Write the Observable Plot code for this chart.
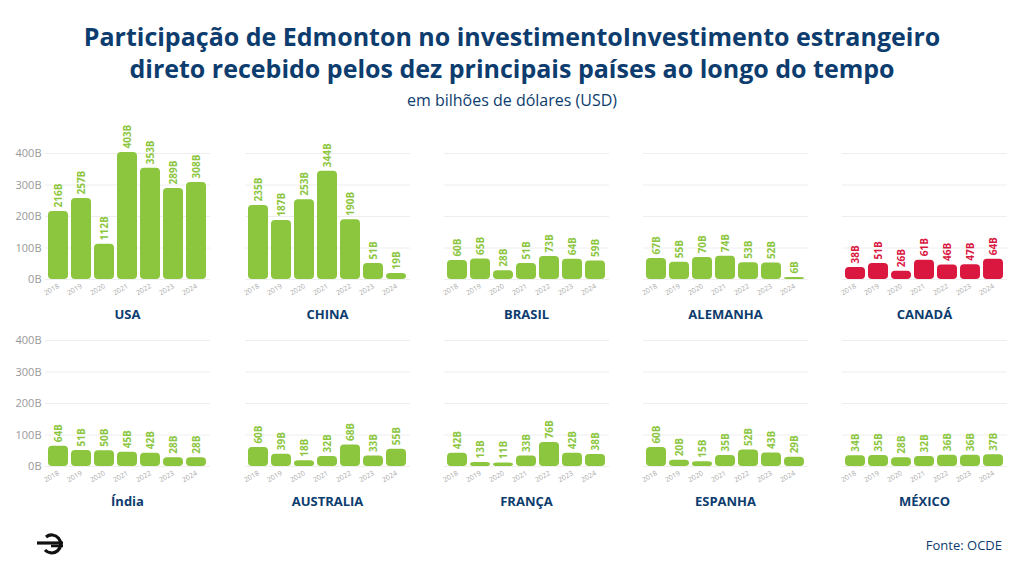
<!DOCTYPE html>
<html><head><meta charset="utf-8">
<script src="https://cdn.jsdelivr.net/npm/d3@7"></script>
<script src="https://cdn.jsdelivr.net/npm/@observablehq/plot@0.6"></script>
<style>
body{margin:0;background:#fff;font-family:Montserrat,"Open Sans",sans-serif;}
#wrap{position:relative;width:1024px;height:572px;overflow:hidden}
.t{position:absolute;left:0;width:1024px;margin:0;text-align:center;font:700 25px/28px "Open Sans",sans-serif;color:#0d3c6e;height:28px;white-space:nowrap}
.sub{position:absolute;top:90px;width:1024px;text-align:center;font:400 16px/20px "Open Sans",sans-serif;color:#0d3c6e}
.panel{position:absolute}
.name{position:absolute;text-align:center;font:700 13px "Open Sans",sans-serif;color:#0d3c6e}
.src{position:absolute;right:22px;top:536px;font:400 13px "Open Sans",sans-serif;color:#0d3c6e}
</style></head><body><div id="wrap">
<div class="t" style="top:22px">Participação de Edmonton no investimentoInvestimento estrangeiro</div>
<div class="t" style="top:54px">direto recebido pelos dez principais países ao longo do tempo</div>
<div class="sub">em bilhões de dólares (USD)</div>
<div class="src">Fonte: OCDE</div>
<svg style="position:absolute;left:36px;top:533px" width="34" height="22" viewBox="0 0 34 22"><path d="M10 4 A9 9 0 1 1 9 17" fill="none" stroke="#111" stroke-width="3.2"/><path d="M1 10 H27" stroke="#111" stroke-width="3.2"/><path d="M15 13 H27" stroke="#111" stroke-width="2.6"/></svg>
</div>
<script>
const years = ["2018","2019","2020","2021","2022","2023","2024"];
const countries = ["USA","CHINA","BRASIL","ALEMANHA","CANADÁ","Índia","AUSTRALIA","FRANÇA","ESPANHA","MÉXICO"];
const values = [
 [216,257,112,403,353,289,308],
 [235,187,253,344,190,51,19],
 [60,65,28,51,73,64,59],
 [67,55,70,74,53,52,6],
 [38,51,26,61,46,47,64],
 [64,51,50,45,42,28,28],
 [60,39,18,32,68,33,55],
 [42,13,11,33,76,42,38],
 [60,20,15,35,52,43,29],
 [34,35,28,32,36,36,37]
];
const yTicks = [0,100,200,300,400];
const highlight = "CANADÁ";
const wrap = document.getElementById("wrap");
countries.forEach((c,i)=>{
  const col=i%5,row=Math.floor(i/5);
  const first=col===0;
  const left = first?0:(240+(col-1)*199);
  const width = first?212:172;
  const top = 125+row*187;
  const data = years.map((y,j)=>({year:y,v:values[i][j]}));
  const color = c===highlight?"#d9173f":"#8cc63f";
  const p = Plot.plot({
    width,height:180,marginLeft:first?45:5,marginRight:2,marginTop:28,marginBottom:26,
    style:{fontFamily:"'Open Sans',sans-serif",background:"transparent",overflow:"visible"},
    x:{domain:years,padding:0.12,label:null},
    y:{domain:[0,400],label:null,axis:null},
    marks:[
      Plot.gridY(yTicks,{stroke:"#eee",strokeOpacity:1}),
      first?Plot.axisY(yTicks,{tickFormat:d=>d+"B",tickSize:0,fill:"#999",fontSize:11,tickPadding:4}):null,
      Plot.axisX({tickSize:0,tickRotate:-30,fontSize:7,fill:"#aaa",tickPadding:6}),
      Plot.barY(data,{x:"year",y:"v",fill:color,rx:4}),
      Plot.text(data,{x:"year",y:"v",text:d=>d.v+"B",rotate:-90,textAnchor:"start",dy:-4,fill:color,fontWeight:700,fontSize:10})
    ]
  });
  const d=document.createElement("div");d.className="panel";
  d.style.left=left+"px";d.style.top=top+"px";d.appendChild(p);wrap.appendChild(d);
  const n=document.createElement("div");n.className="name";n.textContent=c;
  const pl=left+(first?45:5);
  n.style.left=pl+"px";n.style.width=(width-(first?47:7))+"px";n.style.top=(top+180)+"px";
  wrap.appendChild(n);
});
</script></body></html>
